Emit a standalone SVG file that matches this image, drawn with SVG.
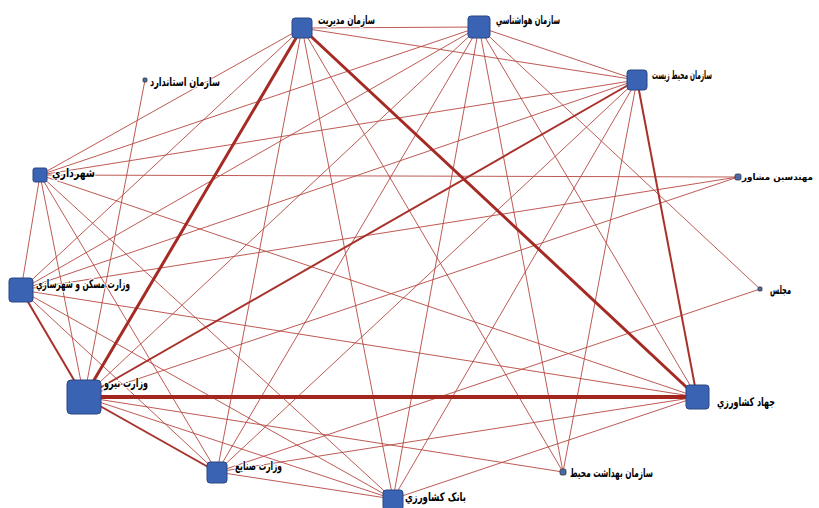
<svg xmlns="http://www.w3.org/2000/svg" width="819" height="508" viewBox="0 0 819 508">
<style>
.e{stroke:#b5473f;stroke-width:0.9;fill:none}
.t1{stroke:#a8322b;stroke-width:2;fill:none}
.t2{stroke:#a52a24;stroke-width:3;fill:none}
.t3{stroke:#a3261f;stroke-width:4;fill:none}
.n{fill:#3a63b4;stroke:#2a4682;stroke-width:1}
.d{fill:#4a6aa8;stroke:#333;stroke-width:0.8}
.l{font-family:"DejaVu Sans",sans-serif;font-weight:bold;font-size:12px;fill:#000;stroke:#fff;stroke-width:2.5;paint-order:stroke;stroke-linejoin:round}
</style>
<rect width="819" height="508" fill="#fff"/>
<g id="connectors">
<line class="e" x1="302" y1="28" x2="479" y2="27"/>
<line class="e" x1="302" y1="28" x2="637" y2="80"/>
<line class="e" x1="302" y1="28" x2="40" y2="175"/>
<line class="e" x1="302" y1="28" x2="21" y2="290"/>
<line class="e" x1="302" y1="28" x2="217" y2="472"/>
<line class="e" x1="302" y1="28" x2="393" y2="499"/>
<line class="e" x1="302" y1="28" x2="563" y2="472"/>
<line class="e" x1="479" y1="27" x2="637" y2="80"/>
<line class="e" x1="479" y1="27" x2="40" y2="175"/>
<line class="e" x1="479" y1="27" x2="21" y2="290"/>
<line class="e" x1="479" y1="27" x2="84" y2="397"/>
<line class="e" x1="479" y1="27" x2="217" y2="472"/>
<line class="e" x1="479" y1="27" x2="393" y2="499"/>
<line class="e" x1="479" y1="27" x2="563" y2="472"/>
<line class="e" x1="479" y1="27" x2="697" y2="397"/>
<line class="e" x1="479" y1="27" x2="760" y2="289"/>
<line class="e" x1="637" y1="80" x2="40" y2="175"/>
<line class="e" x1="637" y1="80" x2="21" y2="290"/>
<line class="e" x1="637" y1="80" x2="217" y2="472"/>
<line class="e" x1="637" y1="80" x2="393" y2="499"/>
<line class="e" x1="637" y1="80" x2="563" y2="472"/>
<line class="e" x1="145" y1="80" x2="84" y2="397"/>
<line class="e" x1="40" y1="175" x2="738" y2="177"/>
<line class="e" x1="40" y1="175" x2="21" y2="290"/>
<line class="e" x1="40" y1="175" x2="217" y2="472"/>
<line class="e" x1="40" y1="175" x2="697" y2="397"/>
<line class="e" x1="40" y1="175" x2="393" y2="499"/>
<line class="e" x1="40" y1="175" x2="84" y2="397"/>
<line class="e" x1="21" y1="290" x2="738" y2="177"/>
<line class="e" x1="21" y1="290" x2="697" y2="397"/>
<line class="e" x1="21" y1="290" x2="217" y2="472"/>
<line class="e" x1="21" y1="290" x2="393" y2="499"/>
<line class="e" x1="84" y1="397" x2="738" y2="177"/>
<line class="e" x1="84" y1="397" x2="393" y2="499"/>
<line class="e" x1="84" y1="397" x2="563" y2="472"/>
<line class="e" x1="217" y1="472" x2="393" y2="499"/>
<line class="e" x1="217" y1="472" x2="697" y2="397"/>
<line class="e" x1="217" y1="472" x2="760" y2="289"/>
<line class="e" x1="393" y1="499" x2="697" y2="397"/>
<line class="t1" x1="84" y1="397" x2="637" y2="80"/>
<line class="t1" x1="637" y1="80" x2="697" y2="397"/>
<line class="t1" x1="84" y1="397" x2="21" y2="290"/>
<line class="t1" x1="84" y1="397" x2="217" y2="472"/>
<line class="t2" x1="302" y1="28" x2="697" y2="397"/>
<line class="t2" x1="84" y1="397" x2="302" y2="28"/>
<line class="t3" x1="84" y1="397" x2="697" y2="397"/>
</g>
<g id="n-modiriat"><rect class="n" x="292" y="18" width="20" height="20" rx="3"/><text class="l" x="318" y="24" textLength="57" lengthAdjust="spacingAndGlyphs">سازمان مدیریت</text></g>
<g id="n-havashenasi"><rect class="n" x="468" y="16" width="22" height="22" rx="3"/><text class="l" x="496" y="24" textLength="64" lengthAdjust="spacingAndGlyphs">سازمان هواشناسي</text></g>
<g id="n-mohitzist"><rect class="n" x="627" y="70" width="20" height="20" rx="3"/><text class="l" x="652" y="79" textLength="60" lengthAdjust="spacingAndGlyphs">سازمان محیط زیست</text></g>
<g id="n-standard"><rect class="d" x="143" y="78" width="4" height="4" rx="1"/><text class="l" x="150" y="86" textLength="70" lengthAdjust="spacingAndGlyphs">سازمان استاندارد</text></g>
<g id="n-shahrdari"><rect class="n" x="33" y="168" width="14" height="14" rx="2"/><text class="l" x="52" y="177" textLength="43" lengthAdjust="spacingAndGlyphs">شهرداري</text></g>
<g id="n-mohandesin"><rect class="d" x="735" y="174" width="6" height="6" rx="1.5"/><text class="l" x="742" y="180" style="font-size:9px" textLength="71" lengthAdjust="spacingAndGlyphs">مهندسین مشاور</text></g>
<g id="n-maskan"><rect class="n" x="9" y="278" width="24" height="24" rx="3"/><text class="l" x="36" y="288" textLength="94" lengthAdjust="spacingAndGlyphs">وزارت مسکن و شهرسازي</text></g>
<g id="n-majles"><rect class="d" x="758" y="287" width="4" height="4" rx="1"/><text class="l" x="770" y="294" textLength="21" lengthAdjust="spacingAndGlyphs">مجلس</text></g>
<g id="n-niroo"><rect class="n" x="67" y="380" width="34" height="34" rx="4"/><text class="l" x="104" y="387" textLength="44" lengthAdjust="spacingAndGlyphs">وزارت نیرو</text></g>
<g id="n-jahad"><rect class="n" x="686" y="385" width="23" height="24" rx="3"/><text class="l" x="717" y="406" textLength="58" lengthAdjust="spacingAndGlyphs">جهاد کشاورزي</text></g>
<g id="n-sanaye"><rect class="n" x="207" y="462" width="20" height="21" rx="3"/><text class="l" x="235" y="470" textLength="47" lengthAdjust="spacingAndGlyphs">وزارت صنایع</text></g>
<g id="n-bank"><rect class="n" x="383" y="490" width="20" height="20" rx="3"/><text class="l" x="405" y="501" textLength="61" lengthAdjust="spacingAndGlyphs">بانک کشاورزي</text></g>
<g id="n-behdasht"><rect class="d" x="560" y="469" width="6" height="6" rx="1.5"/><text class="l" x="570" y="477" textLength="83" lengthAdjust="spacingAndGlyphs">سازمان بهداشت محیط</text></g>
</svg>
